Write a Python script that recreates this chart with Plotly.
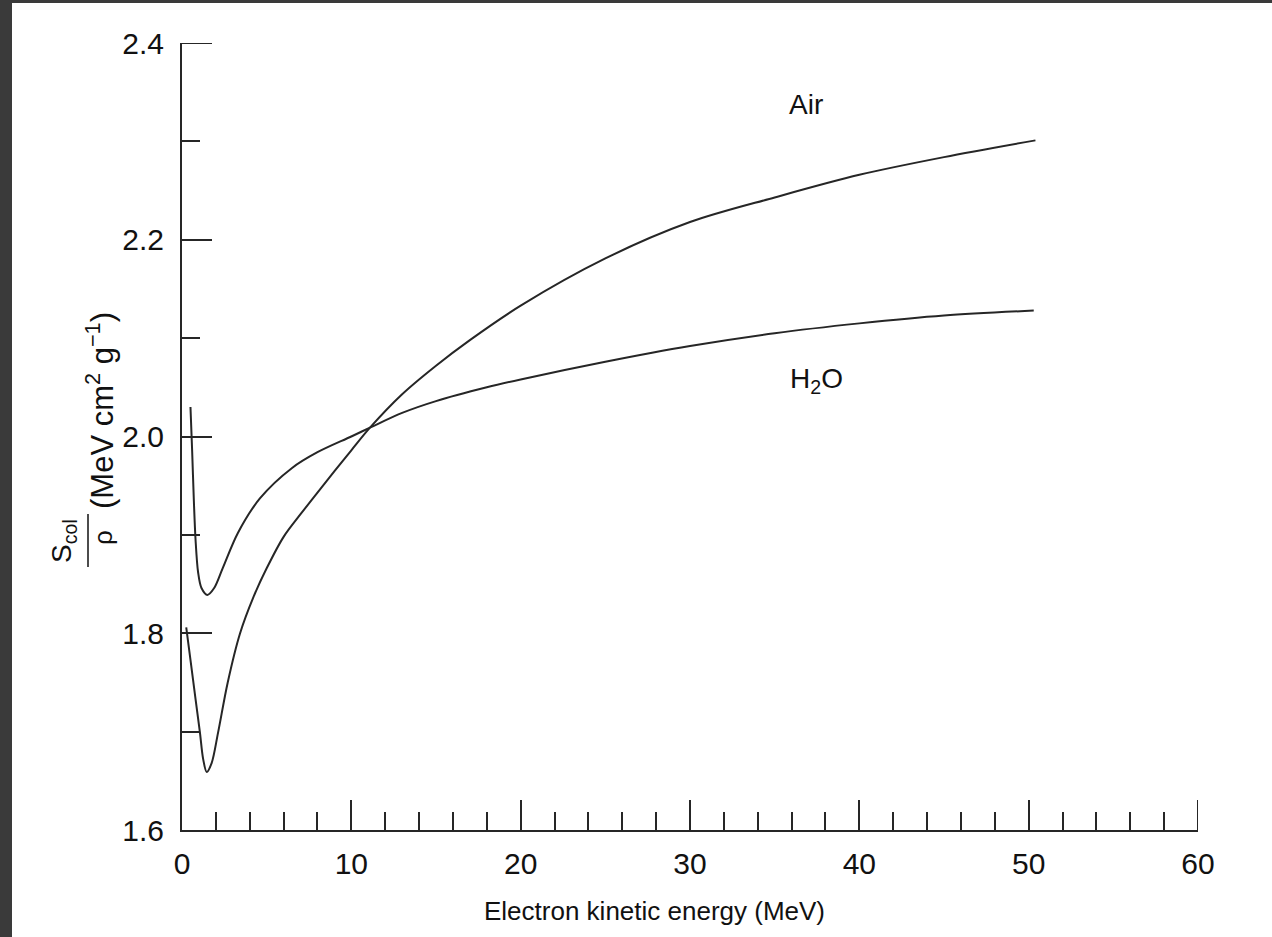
import plotly.graph_objects as go

# ---- data ----
air_energy = [0.25, 0.5, 0.8, 1.06, 1.25, 1.46, 1.75, 2.13, 2.7, 3.43, 4.2, 5, 6, 7, 8, 10, 11.1,
              13, 15, 17, 20, 25, 30, 35, 40, 45, 50.4]
air_scol = [1.806, 1.773, 1.733, 1.699, 1.672, 1.659, 1.668, 1.699, 1.750, 1.800, 1.836, 1.866, 1.898,
            1.921, 1.943, 1.986, 2.009, 2.043, 2.072, 2.098, 2.133, 2.181, 2.218, 2.243, 2.266, 2.284, 2.301]

water_energy = [0.5, 0.6, 0.7, 0.8, 0.95, 1.15, 1.5, 1.9, 2.4, 3.3, 4.6, 6.5, 8, 10, 11.1, 13, 15, 18, 20,
                25, 30, 35, 40, 45, 50.3]
water_scol = [2.030, 1.985, 1.935, 1.895, 1.862, 1.846, 1.839, 1.846, 1.866, 1.902, 1.937, 1.968, 1.984,
              2.000, 2.009, 2.024, 2.036, 2.050, 2.058, 2.076, 2.092, 2.105, 2.115, 2.123, 2.128]

x_ticks = [0, 10, 20, 30, 40, 50, 60]
y_ticks = [1.6, 1.8, 2.0, 2.2, 2.4]
y_tick_labels = ["1.6", "1.8", "2.0", "2.2", "2.4"]

# ---- layout geometry ----
W, H = 1272, 937
L, R, T, B = 182, 74, 43, 107
PW, PH = W - L - R, H - T - B
MAJOR_LEN, MINOR_LEN = 30, 18


def px(p):
    return (p - L) / PW


def py(p):
    return (H - B - p) / PH


FONT = "Liberation Sans, Arial, sans-serif"
INK = "#111111"
LINE = "#262626"

fig = go.Figure()
fig.add_trace(go.Scatter(x=air_energy, y=air_scol, mode="lines", name="Air",
                         line=dict(color=LINE, width=2, shape="spline", smoothing=0.9),
                         showlegend=False))
fig.add_trace(go.Scatter(x=water_energy, y=water_scol, mode="lines", name="H2O",
                         line=dict(color=LINE, width=2, shape="spline", smoothing=0.9),
                         showlegend=False))

# Plotly drops inside ticks sitting exactly at the range ends; draw those two end ticks explicitly
end_ticks = [
    dict(type="line", xref="paper", yref="y", x0=0, x1=MAJOR_LEN / PW, y0=y_ticks[-1], y1=y_ticks[-1],
         line=dict(color=LINE, width=2)),
    dict(type="line", xref="x", yref="paper", x0=x_ticks[-1], x1=x_ticks[-1], y0=0, y1=MAJOR_LEN / PH,
         line=dict(color=LINE, width=2)),
]

fig.update_layout(
    width=W, height=H,
    margin=dict(l=L, r=R, t=T, b=B, pad=0),
    paper_bgcolor="#3a3a3a",
    plot_bgcolor="white",
    font=dict(family=FONT, size=30, color=INK),
    xaxis=dict(range=[0, 60], tickvals=x_ticks, ticktext=[str(v) for v in x_ticks],
               showline=True, linecolor=LINE, linewidth=2, showgrid=False, zeroline=False,
               ticks="inside", ticklen=MAJOR_LEN, tickwidth=2, tickcolor=LINE,
               ticklabelstandoff=6,
               minor=dict(dtick=2, tick0=0, ticks="inside", ticklen=MINOR_LEN, tickwidth=2, tickcolor=LINE,
                          showgrid=False),
               tickfont=dict(size=30, color=INK, family=FONT)),
    yaxis=dict(range=[1.6, 2.4], tickvals=y_ticks, ticktext=y_tick_labels,
               showline=True, linecolor=LINE, linewidth=2, showgrid=False, zeroline=False,
               ticks="inside", ticklen=MAJOR_LEN, tickwidth=2, tickcolor=LINE,
               ticklabelstandoff=10,
               minor=dict(dtick=0.1, tick0=1.6, ticks="inside", ticklen=MINOR_LEN, tickwidth=2, tickcolor=LINE,
                          showgrid=False),
               tickfont=dict(size=30, color=INK, family=FONT)),
    shapes=[
        # white page with dark frame around it
        dict(type="rect", xref="paper", yref="paper", x0=px(12), x1=px(W), y0=py(3), y1=py(H),
             fillcolor="white", line=dict(width=0), layer="below"),
        # fraction bar of the y-axis title
        dict(type="line", xref="paper", yref="paper", x0=px(88), x1=px(88), y0=py(514), y1=py(567),
             line=dict(color=INK, width=1.5)),
    ] + end_ticks,
    annotations=[
        dict(text="Electron kinetic energy (MeV)", xref="paper", yref="paper", x=px(654), y=py(911),
             xanchor="center", yanchor="middle", showarrow=False, font=dict(size=26, color=INK, family=FONT)),
        dict(text="Air", xref="paper", yref="paper", x=px(806), y=py(104),
             xanchor="center", yanchor="middle", showarrow=False, font=dict(size=28, color=INK, family=FONT)),
        dict(text="H<sub>2</sub>O", xref="paper", yref="paper", x=px(816), y=py(380),
             xanchor="center", yanchor="middle", showarrow=False, font=dict(size=28, color=INK, family=FONT)),
        dict(text="S<sub>col</sub>", xref="paper", yref="paper", x=px(63), y=py(541), textangle=-90,
             xanchor="center", yanchor="middle", showarrow=False, font=dict(size=28, color=INK, family=FONT)),
        dict(text="ρ", xref="paper", yref="paper", x=px(103), y=py(538), textangle=-90,
             xanchor="center", yanchor="middle", showarrow=False, font=dict(size=26, color=INK, family=FONT)),
        dict(text="(MeV cm<sup>2</sup> g<sup>−1</sup>)", xref="paper", yref="paper", x=px(100), y=py(411),
             textangle=-90, xanchor="center", yanchor="middle", showarrow=False,
             font=dict(size=31, color=INK, family=FONT)),
    ],
)

fig.write_html("out.html")
